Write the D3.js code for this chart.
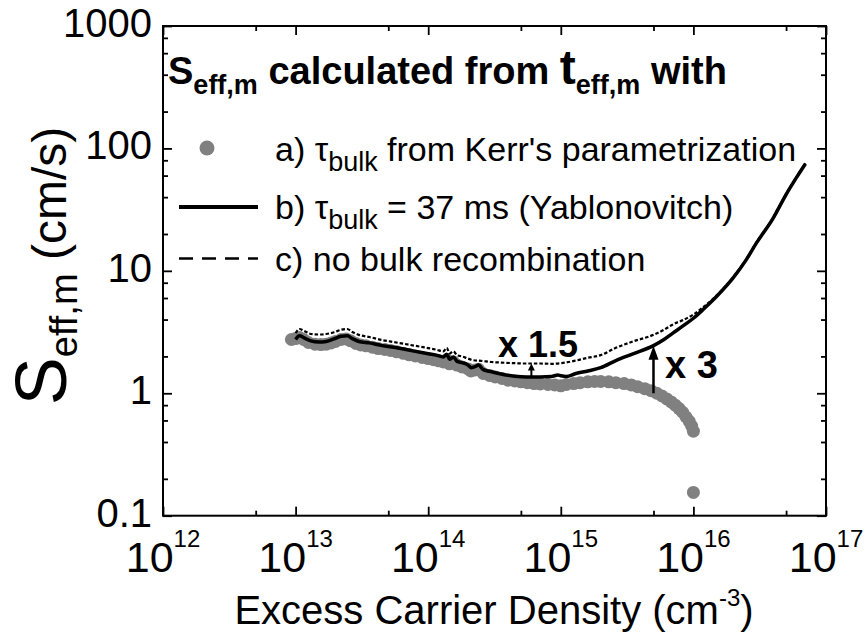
<!DOCTYPE html>
<html>
<head>
<meta charset="utf-8">
<script src="https://cdn.jsdelivr.net/npm/d3@7"></script>
<style>
  html, body { margin: 0; padding: 0; background: #fff; }
  svg { display: block; }
  text { font-family: "Liberation Sans", Arial, Helvetica, sans-serif; fill: #000; }
</style>
</head>
<body>
<svg id="chart" width="866" height="637"></svg>
<script>
// ---------------- data ----------------
// a) tau_bulk from Kerr's parametrization (grey dots)
const kerrN = [9.3e12,1.0e13,1.07e13,1.15e13,1.25e13,1.4e13,1.55e13,1.7e13,1.85e13,2.0e13,2.2e13,2.4e13,2.6e13,2.85e13,3.1e13,3.4e13,3.8e13,4.2e13,4.7e13,5.2e13,5.8e13,6.5e13,7.2e13,8e13,9e13,1.0e14,1.1e14,1.2e14,1.3e14,1.38e14,1.45e14,1.55e14,1.65e14,1.8e14,2.0e14,2.1e14,2.25e14,2.4e14,2.6e14,2.9e14,3.2e14,3.6e14,4e14,4.5e14,5e14,5.6e14,6.3e14,7e14,8e14,9e14,1.0e15,1.1e15,1.25e15,1.4e15,1.6e15,1.8e15,2.0e15,2.3e15,2.6e15,3.0e15,3.4e15,3.8e15,4.3e15,4.8e15,5.3e15,5.8e15,6.3e15,6.8e15,7.3e15,7.8e15,8.3e15,8.8e15,9.3e15,9.7e15,1.0e16,1.0e16];
const kerrS = [2.75,2.8,2.85,2.75,2.6,2.52,2.5,2.52,2.58,2.65,2.75,2.78,2.68,2.55,2.48,2.44,2.38,2.32,2.28,2.24,2.18,2.12,2.06,2.02,1.96,1.92,1.88,1.84,1.8,1.88,1.74,1.8,1.7,1.64,1.58,1.52,1.55,1.57,1.45,1.4,1.36,1.32,1.28,1.26,1.24,1.22,1.2,1.19,1.18,1.17,1.15,1.18,1.2,1.22,1.24,1.25,1.25,1.24,1.22,1.2,1.17,1.13,1.09,1.05,1.0,0.95,0.9,0.85,0.8,0.75,0.7,0.64,0.59,0.54,0.49,0.155];

// b) tau_bulk = 37 ms (Yablonovitch) (solid line)
const yabN = [1.0e13,1.07e13,1.15e13,1.3e13,1.5e13,1.7e13,1.95e13,2.2e13,2.45e13,2.7e13,3.0e13,3.6e13,4.5e13,5.5e13,6.5e13,8e13,1.0e14,1.15e14,1.3e14,1.38e14,1.45e14,1.55e14,1.65e14,1.8e14,2.0e14,2.1e14,2.25e14,2.4e14,2.6e14,3.0e14,3.6e14,4.5e14,5.5e14,7e14,8.5e14,9.5e14,1.0e15,1.1e15,1.3e15,1.6e15,2.0e15,2.6e15,3.5e15,5e15,6e15,7e15,8.5e15,1.0e16,1.2e16,1.5e16,2.0e16,2.5e16,3.0e16,4.0e16,5.0e16,6.0e16,7.0e16];
const yabS = [2.75,2.95,2.85,2.68,2.62,2.65,2.78,2.92,2.95,2.78,2.65,2.58,2.45,2.38,2.3,2.2,2.1,2.05,1.98,2.08,1.9,1.98,1.82,1.78,1.7,1.62,1.65,1.7,1.56,1.5,1.43,1.38,1.36,1.36,1.37,1.41,1.39,1.37,1.45,1.52,1.62,1.85,2.1,2.45,2.75,3.1,3.6,4.1,4.9,6.2,8.8,12.3,17,27,42,58,75];

// c) no bulk recombination (dashed line)
const noBulkN = [1.0e13,1.07e13,1.15e13,1.3e13,1.5e13,1.7e13,1.95e13,2.2e13,2.45e13,2.7e13,3.0e13,3.6e13,4.5e13,5.5e13,6.5e13,8e13,1.0e14,1.15e14,1.3e14,1.38e14,1.45e14,1.55e14,1.65e14,1.8e14,2.0e14,2.2e14,2.5e14,3.0e14,3.6e14,4.5e14,5.5e14,7e14,8.5e14,1.0e15,1.3e15,1.6e15,2.0e15,2.6e15,3.5e15,5e15,6e15,7e15,8.5e15,1.0e16,1.2e16,1.5e16,2.0e16,2.5e16,3.0e16,4.0e16,5.0e16,6.0e16,7.0e16];
const noBulkS = [3.1,3.35,3.25,3.05,3.02,3.05,3.15,3.3,3.35,3.15,3.0,2.88,2.72,2.62,2.54,2.44,2.34,2.27,2.2,2.35,2.12,2.2,2.05,2.0,1.92,1.86,1.84,1.8,1.78,1.76,1.75,1.75,1.74,1.76,1.85,1.95,2.05,2.35,2.65,3.0,3.3,3.65,4.0,4.4,5.1,6.3,8.9,12.4,17.2,27.3,42.5,58.5,75.5];

// axes
const xMajorTicks = [1e12,1e13,1e14,1e15,1e16,1e17];
const xMajorExp = ["12","13","14","15","16","17"];
const xMinorTicks = [5e12,5e13,5e14,5e15,5e16];
const yMajorTicks = [0.1,1,10,100,1000];
const yMajorLabels = ["0.1","1","10","100","1000"];
const yMinorTicks = [0.2,0.4,0.6,0.8,2,4,6,8,20,40,60,80,200,400,600,800];

// annotation arrows: [N, S_from, S_to]
const arrowSmall = [6e14, 1.37, 1.75];
const arrowBig = [5e15, 1.0, 2.45];

// ---------------- drawing ----------------
const svg = d3.select("#chart");
svg.append("rect").attr("width",866).attr("height",637).attr("fill","#fff");

const L = 163, R = 826, T = 26, B = 515.7;
const x = d3.scaleLog().domain([1e12,1e17]).range([L,R]);
const y = d3.scaleLog().domain([0.1,1000]).range([B,T]);

function styleAxis(g){
  g.select(".domain").remove();
  g.selectAll(".tick line").attr("stroke","#000").attr("stroke-width",1.8);
  g.selectAll(".tick text").remove();
}
svg.append("g").attr("transform",`translate(0,${B})`).call(d3.axisBottom(x).tickValues(xMajorTicks).tickSize(-9).tickFormat("")).call(styleAxis);
svg.append("g").attr("transform",`translate(0,${B})`).call(d3.axisBottom(x).tickValues(xMinorTicks).tickSize(-5).tickFormat("")).call(styleAxis);
svg.append("g").attr("transform",`translate(0,${T})`).call(d3.axisTop(x).tickValues(xMajorTicks).tickSize(-9).tickFormat("")).call(styleAxis);
svg.append("g").attr("transform",`translate(0,${T})`).call(d3.axisTop(x).tickValues(xMinorTicks).tickSize(-5).tickFormat("")).call(styleAxis);
svg.append("g").attr("transform",`translate(${L},0)`).call(d3.axisLeft(y).tickValues(yMajorTicks).tickSize(-9).tickFormat("")).call(styleAxis);
svg.append("g").attr("transform",`translate(${L},0)`).call(d3.axisLeft(y).tickValues(yMinorTicks).tickSize(-5).tickFormat("")).call(styleAxis);
svg.append("g").attr("transform",`translate(${R},0)`).call(d3.axisRight(y).tickValues(yMajorTicks).tickSize(-9).tickFormat("")).call(styleAxis);
svg.append("g").attr("transform",`translate(${R},0)`).call(d3.axisRight(y).tickValues(yMinorTicks).tickSize(-5).tickFormat("")).call(styleAxis);

svg.append("rect").attr("x",L).attr("y",T).attr("width",R-L).attr("height",B-T)
  .attr("fill","none").attr("stroke","#000").attr("stroke-width",2);

// y tick labels
svg.append("g").selectAll("text").data(yMajorTicks).join("text")
  .attr("x",152).attr("y",d=>y(d)+11).attr("text-anchor","end")
  .attr("font-size",40).text((d,i)=>yMajorLabels[i]);

// x tick labels 10^n
const xl = svg.append("g").selectAll("text").data(xMajorTicks).join("text")
  .attr("x",d=>x(d)).attr("y",572).attr("text-anchor","middle").attr("font-size",43);
xl.append("tspan").text("10");
xl.append("tspan").attr("font-size",24).attr("dy",-25).text((d,i)=>xMajorExp[i]);

// x title
const xt = svg.append("text").attr("x",494).attr("y",624).attr("text-anchor","middle").attr("font-size",40);
xt.append("tspan").text("Excess Carrier Density (cm");
xt.append("tspan").attr("font-size",24).attr("dy",-18).text("-3");
xt.append("tspan").attr("dy",18).text(")");

// y title
const yt = svg.append("text").attr("transform","translate(66,266) rotate(-90)").attr("text-anchor","middle");
yt.append("tspan").attr("font-size",72).text("S");
yt.append("tspan").attr("font-size",38).attr("dy",11).text("eff,m");
yt.append("tspan").attr("font-size",48).attr("dy",-11).text(" (cm/s)");

// data: grey dots
svg.append("g").selectAll("circle").data(kerrN.map((n,i)=>[n,kerrS[i]])).join("circle")
  .attr("cx",d=>x(d[0])).attr("cy",d=>y(d[1])).attr("r",6.5).attr("fill","#808080");

const line = d3.line().x(d=>x(d[0])).y(d=>y(d[1])).curve(d3.curveMonotoneX);
svg.append("path").datum(yabN.map((n,i)=>[n,yabS[i]])).attr("d",line)
  .attr("fill","none").attr("stroke","#000").attr("stroke-width",3.5).attr("stroke-linejoin","round");
svg.append("path").datum(noBulkN.map((n,i)=>[n,noBulkS[i]])).attr("d",line)
  .attr("fill","none").attr("stroke","#000").attr("stroke-width",2.2).attr("stroke-dasharray","3.5,2");

// arrows
function arrow(spec, headH, headW, sw){
  const ax = x(spec[0]), y0 = y(spec[1]), y1 = y(spec[2]);
  svg.append("line").attr("x1",ax).attr("x2",ax).attr("y1",y0).attr("y2",y1+headH*0.8)
    .attr("stroke","#000").attr("stroke-width",sw);
  svg.append("path").attr("d",`M${ax},${y1} L${ax-headW/2},${y1+headH} L${ax+headW/2},${y1+headH} Z`).attr("fill","#000");
}
arrow(arrowSmall, 7, 7, 2);
arrow(arrowBig, 14, 10, 2.5);

svg.append("text").attr("x",498).attr("y",357).attr("font-size",36).attr("font-weight","bold").text("x 1.5");
svg.append("text").attr("x",665).attr("y",378).attr("font-size",38).attr("font-weight","bold").text("x 3");

// legend title
const lt = svg.append("text").attr("x",168).attr("y",84).attr("font-weight","bold").attr("font-size",38);
lt.append("tspan").text("S");
lt.append("tspan").attr("font-size",27).attr("dy",10).text("eff,m");
lt.append("tspan").attr("dy",-10).text(" calculated from ");
lt.append("tspan").attr("font-size",48).text("t");
lt.append("tspan").attr("font-size",27).attr("dy",10).text("eff,m");
lt.append("tspan").attr("dy",-10).text(" with");

// legend entries
svg.append("circle").attr("cx",207).attr("cy",148).attr("r",7.5).attr("fill","#808080");
svg.append("line").attr("x1",179).attr("x2",258).attr("y1",207).attr("y2",207).attr("stroke","#000").attr("stroke-width",4);
svg.append("line").attr("x1",179).attr("x2",258).attr("y1",258.5).attr("y2",258.5).attr("stroke","#000").attr("stroke-width",2.5).attr("stroke-dasharray","14,9");

function legendText(yb, pre, post, withTau){
  const t = svg.append("text").attr("x",275).attr("y",yb).attr("font-size",34);
  t.append("tspan").text(pre);
  if (withTau){
    t.append("tspan").text("τ");
    t.append("tspan").attr("font-size",27).attr("dy",10).text("bulk");
    t.append("tspan").attr("dy",-10).text(post);
  }
}
legendText(161, "a) ", " from Kerr's parametrization", true);
legendText(219, "b) ", " = 37 ms (Yablonovitch)", true);
legendText(271, "c) no bulk recombination", "", false);
</script>
</body>
</html>
